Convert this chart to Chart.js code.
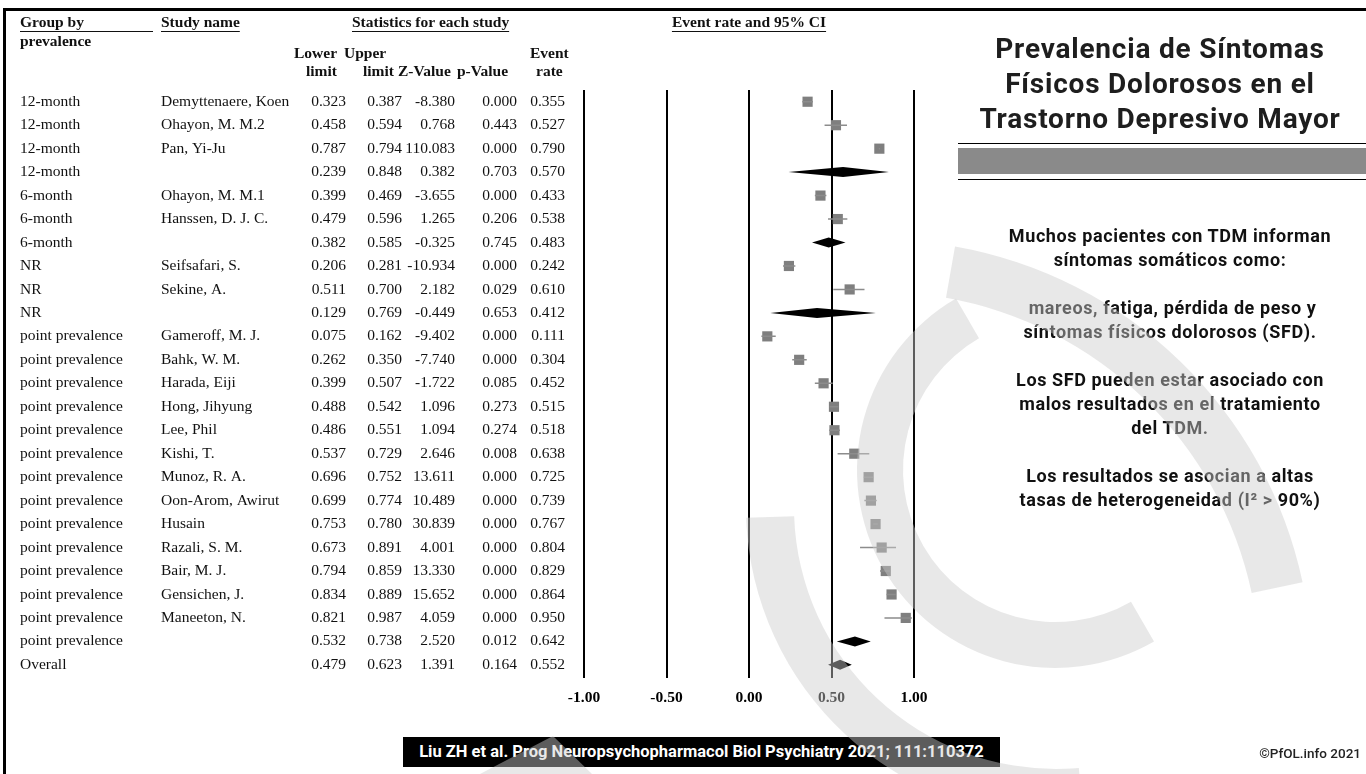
<!DOCTYPE html>
<html><head><meta charset="utf-8">
<script src="https://cdn.jsdelivr.net/npm/chart.js@4.4.1/dist/chart.umd.min.js"></script>
<style>
html,body{margin:0;padding:0;background:#fff;width:1366px;height:774px;overflow:hidden;}
#chartBox{position:absolute;left:0;top:0;width:1366px;height:774px;}
.rule{position:absolute;background:#000;}
#title{position:absolute;left:955px;width:410px;top:31px;text-align:center;font-family:Roboto,sans-serif;font-weight:700;font-size:28px;line-height:35px;letter-spacing:0.8px;color:#1e1e1e;}
#body{position:absolute;left:960px;width:420px;top:224px;text-align:center;font-family:Roboto,sans-serif;font-weight:700;font-size:18px;line-height:24px;letter-spacing:0.6px;color:#111;}
#cite{position:absolute;left:403px;top:737px;width:597px;height:30px;background:#000;color:#fff;font-family:Roboto,sans-serif;font-weight:700;font-size:16.5px;line-height:30px;text-align:center;white-space:nowrap;}
#copy{position:absolute;right:5px;top:745px;font-family:Roboto,sans-serif;font-weight:500;font-size:13.5px;color:#222;}
#wm{position:absolute;left:0;top:0;pointer-events:none;z-index:10;}
</style></head>
<body>
<div id="chartBox"><canvas id="c" width="1366" height="774"></canvas></div>
<div class="rule" style="left:3px;top:8px;width:1363px;height:3px;"></div>
<div class="rule" style="left:3px;top:8px;width:3px;height:766px;"></div>
<div class="rule" style="left:958px;top:143px;width:408px;height:1px;"></div>
<div class="rule" style="left:958px;top:148px;width:408px;height:26px;background:#8a8a8a;"></div>
<div class="rule" style="left:958px;top:179px;width:408px;height:1px;"></div>
<div id="title">Prevalencia de Síntomas<br>Físicos Dolorosos en el<br>Trastorno Depresivo Mayor</div>
<div id="body">Muchos pacientes con TDM informan<br>síntomas somáticos como:<br><br>&nbsp;mareos, fatiga, pérdida de peso y<br>síntomas físicos dolorosos (SFD).<br><br>Los SFD pueden estar asociado con<br>malos resultados en el tratamiento<br>del TDM.<br><br>Los resultados se asocian a altas<br>tasas de heterogeneidad (I² &gt; 90%)</div>
<div id="cite">Liu ZH et al. Prog Neuropsychopharmacol Biol Psychiatry 2021; 111:110372</div>
<div id="copy">©PfOL.info 2021</div>
<canvas id="wm" width="1366" height="774"></canvas>
<script>
const groups = ["12-month","12-month","12-month","12-month","6-month","6-month","6-month","NR","NR","NR",
  "point prevalence","point prevalence","point prevalence","point prevalence","point prevalence","point prevalence",
  "point prevalence","point prevalence","point prevalence","point prevalence","point prevalence","point prevalence",
  "point prevalence","point prevalence","Overall"];
const studies = ["Demyttenaere, Koen","Ohayon, M. M.2","Pan, Yi-Ju","","Ohayon, M. M.1","Hanssen, D. J. C.","",
  "Seifsafari, S.","Sekine, A.","","Gameroff, M. J.","Bahk, W. M.","Harada, Eiji","Hong, Jihyung","Lee, Phil",
  "Kishi, T.","Munoz, R. A.","Oon-Arom, Awirut","Husain","Razali, S. M.","Bair, M. J.","Gensichen, J.","Maneeton, N.","",""];
const lowerLimits = [0.323,0.458,0.787,0.239,0.399,0.479,0.382,0.206,0.511,0.129,0.075,0.262,0.399,0.488,0.486,
  0.537,0.696,0.699,0.753,0.673,0.794,0.834,0.821,0.532,0.479];
const upperLimits = [0.387,0.594,0.794,0.848,0.469,0.596,0.585,0.281,0.700,0.769,0.162,0.350,0.507,0.542,0.551,
  0.729,0.752,0.774,0.780,0.891,0.859,0.889,0.987,0.738,0.623];
const zValues = [-8.380,0.768,110.083,0.382,-3.655,1.265,-0.325,-10.934,2.182,-0.449,-9.402,-7.740,-1.722,1.096,1.094,
  2.646,13.611,10.489,30.839,4.001,13.330,15.652,4.059,2.520,1.391];
const pValues = [0.000,0.443,0.000,0.703,0.000,0.206,0.745,0.000,0.029,0.653,0.000,0.000,0.085,0.273,0.274,
  0.008,0.000,0.000,0.000,0.000,0.000,0.000,0.000,0.012,0.164];
const eventRates = [0.355,0.527,0.790,0.570,0.433,0.538,0.483,0.242,0.610,0.412,0.111,0.304,0.452,0.515,0.518,
  0.638,0.725,0.739,0.767,0.804,0.829,0.864,0.950,0.642,0.552];
const xTickValues = [-1,-0.5,0,0.5,1];
const xTickLabels = ["-1.00","-0.50","0.00","0.50","1.00"];

const isSummary = studies.map(s => s === "");
const squareData = [], ciData = [];
eventRates.forEach((r, i) => {
  if (isSummary[i]) return;
  squareData.push({x: r, y: i});
  ciData.push({x: lowerLimits[i], y: i}, {x: upperLimits[i], y: i}, {x: upperLimits[i], y: null});
});

const SERIF = '"Liberation Serif","Times New Roman",serif';
const tablePlugin = {
  id: 'forestTable',
  afterDatasetsDraw(chart) {
    const {ctx, scales: {x, y}} = chart;
    ctx.save();
    eventRates.forEach((r, i) => {
      if (!isSummary[i]) return;
      const xl = x.getPixelForValue(lowerLimits[i]);
      const xr = x.getPixelForValue(upperLimits[i]);
      const xm = x.getPixelForValue(r);
      const yc = y.getPixelForValue(i);
      ctx.beginPath();
      ctx.moveTo(xl, yc); ctx.lineTo(xm, yc - 5); ctx.lineTo(xr, yc); ctx.lineTo(xm, yc + 5);
      ctx.closePath();
      ctx.fillStyle = '#000';
      ctx.fill();
    });
    ctx.restore();
  },
  afterDraw(chart) {
    const {ctx, scales: {y}} = chart;
    ctx.save();
    ctx.fillStyle = '#111';
    ctx.textBaseline = 'middle';
    ctx.font = 'bold 15.5px ' + SERIF;
    ctx.textAlign = 'left';
    const hdr = (t, px, py) => ctx.fillText(t, px, py);
    hdr('Group by', 20, 23); hdr('prevalence', 20, 42);
    hdr('Study name', 161, 23);
    hdr('Statistics for each study', 352, 23);
    ctx.textAlign = 'center';
    hdr('Event rate and 95% CI', 749, 23);
    ctx.textAlign = 'left';
    hdr('Lower', 294, 54); hdr('limit', 306, 72);
    hdr('Upper', 344, 54); hdr('limit', 363, 72);
    hdr('Z-Value', 398, 72);
    hdr('p-Value', 457, 72);
    hdr('Event', 530, 54); hdr('rate', 536, 72);
    ctx.fillRect(20, 31, 133, 1);
    ctx.fillRect(161, 31, ctx.measureText('Study name').width, 1);
    ctx.fillRect(352, 31, ctx.measureText('Statistics for each study').width, 1);
    const w = ctx.measureText('Event rate and 95% CI').width;
    ctx.fillRect(749 - w / 2, 31, w, 1);
    ctx.font = '15.5px ' + SERIF;
    groups.forEach((g, i) => {
      const py = y.getPixelForValue(i);
      ctx.textAlign = 'left';
      ctx.fillText(g, 20, py);
      ctx.fillText(studies[i], 161, py);
      ctx.textAlign = 'right';
      ctx.fillText(lowerLimits[i].toFixed(3), 346, py);
      ctx.fillText(upperLimits[i].toFixed(3), 402, py);
      ctx.fillText(zValues[i].toFixed(3), 455, py);
      ctx.fillText(pValues[i].toFixed(3), 517, py);
      ctx.fillText(eventRates[i].toFixed(3), 565, py);
    });
    ctx.restore();
  }
};

new Chart(document.getElementById('c'), {
  type: 'scatter',
  data: {
    datasets: [
      {data: ciData, showLine: true, borderColor: '#8c8c8c', borderWidth: 1.5, pointRadius: 0, spanGaps: false},
      {data: squareData, pointStyle: 'rect', pointRadius: 7.2, backgroundColor: '#7f7f7f', borderWidth: 0}
    ]
  },
  options: {
    responsive: true, maintainAspectRatio: false, animation: false, devicePixelRatio: 1,
    layout: {padding: {left: 584, right: 452, top: 90, bottom: 66}},
    plugins: {legend: {display: false}, tooltip: {enabled: false}},
    scales: {
      x: {
        type: 'linear', min: -1, max: 1,
        afterBuildTicks: s => { s.ticks = xTickValues.map(v => ({value: v})); },
        afterFit: s => { s.height = 30; },
        grid: {color: '#000', lineWidth: 2, drawTicks: false},
        border: {display: false},
        ticks: {
          padding: 11, color: '#000',
          font: {family: SERIF, weight: 'bold', size: 15.5},
          callback: (v, idx) => xTickLabels[idx]
        }
      },
      y: {type: 'linear', reverse: true, min: -0.5, max: 24.56, display: false}
    }
  },
  plugins: [tablePlugin]
});

// decorative translucent watermark (logo) over the slide
(function () {
  const w = document.getElementById('wm').getContext('2d');
  const d = a => a * Math.PI / 180;
  w.fillStyle = 'rgba(205,205,205,0.45)';
  const band = (cx, cy, r1, r2, a0, a1) => {
    w.beginPath();
    w.arc(cx, cy, r2, d(a0), d(a1));
    w.arc(cx, cy, r1, d(a1), d(a0), true);
    w.closePath();
    w.fill();
  };
  band(1055, 470, 152, 198, 60, 240);
  band(880, 672, 380, 432, -80, -12);
  band(1056, 507, 262, 310, 85, 178);
  w.beginPath();
  w.moveTo(480, 774); w.lineTo(553, 736); w.lineTo(592, 774); w.closePath();
  w.fill();
})();
</script>
</body></html>
